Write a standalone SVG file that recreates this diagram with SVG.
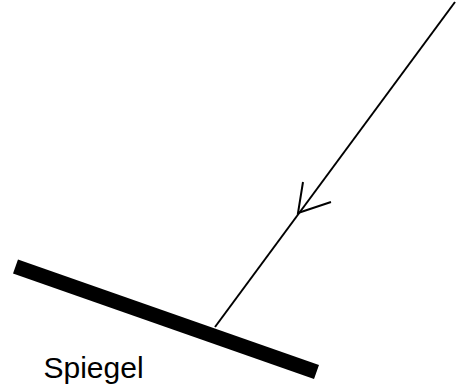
<svg xmlns="http://www.w3.org/2000/svg" width="456" height="392" viewBox="0 0 456 392">
<style>
.ray{stroke:#000;stroke-width:2;fill:none}
.head{stroke:#000;stroke-width:2;fill:none;stroke-linecap:butt}
.mirror{stroke:#000;stroke-width:15;stroke-linecap:butt}
.lbl{font-family:"Liberation Sans",Arial,sans-serif;font-size:30px;fill:#000}
</style>
<rect width="456" height="392" fill="#fff"/>
<g id="mirror">
<line class="mirror" x1="15.5" y1="266.5" x2="316.5" y2="372"/>
<text class="lbl" x="43.5" y="378">Spiegel</text>
</g>
<g id="connectors">
<line class="ray" x1="455" y1="2" x2="215" y2="327"/>
<polyline class="head" points="303,182 298,213 331,202"/>
</g>
</svg>
